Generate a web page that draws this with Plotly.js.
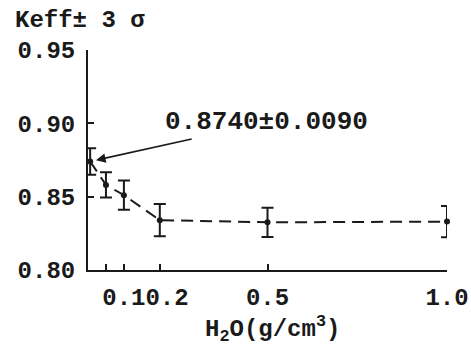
<!DOCTYPE html>
<html>
<head>
<meta charset="utf-8">
<script src="https://cdn.plot.ly/plotly-3.0.1.min.js"></script>
<style>
  body { margin: 0; background: #fff; }
  #chart { width: 471px; height: 347px; }
</style>
</head>
<body>
<div id="chart"></div>
<script>
const density = [0.006, 0.05, 0.1, 0.2, 0.5, 1.0];
const keff = [0.874, 0.858, 0.851, 0.834, 0.8325, 0.833];
const sigma3 = [0.009, 0.0086, 0.010, 0.011, 0.010, 0.0107];
const xTicks = [0.05, 0.1, 0.2, 0.5, 1.0];
// 0.05 has a tick but no label; 0.2 label is pushed right like the original
const xTickText = ['', '0.1', '\u00a00.2', '0.5', '1.0'];
const yTicks = [0.80, 0.85, 0.90, 0.95];

const ink = '#1a1a1a';
const font = 'Liberation Mono, DejaVu Sans Mono, monospace';

const data = [
  {
    x: density,
    y: keff,
    type: 'scatter',
    mode: 'lines+markers',
    line: { color: ink, width: 2, dash: '12px,7px' },
    marker: { color: ink, size: 6 },
    error_y: { type: 'data', array: sigma3, visible: true, color: ink, thickness: 2, width: 6 },
    cliponaxis: false,
    showlegend: false
  }
];

const layout = {
  width: 471,
  height: 347,
  margin: { l: 88, r: 24, t: 50, b: 77 },
  paper_bgcolor: '#fff',
  plot_bgcolor: '#fff',
  font: { family: font, color: ink, size: 24 },
  xaxis: {
    range: [0, 1.0],
    tickvals: xTicks,
    ticktext: xTickText,
    tickangle: 0,
    ticks: 'inside',
    ticklen: 6,
    tickwidth: 2,
    tickcolor: ink,
    showline: true,
    linewidth: 2,
    linecolor: ink,
    showgrid: false,
    zeroline: false,
    ticklabelstandoff: 4,
    tickfont: { family: font, size: 24, color: ink, weight: 'bold' }
  },
  yaxis: {
    range: [0.80, 0.95],
    tickvals: yTicks,
    tickformat: '.2f',
    ticks: 'inside',
    ticklen: 6,
    tickwidth: 2,
    tickcolor: ink,
    showline: true,
    linewidth: 2,
    linecolor: ink,
    showgrid: false,
    zeroline: false,
    ticklabelstandoff: 6,
    tickfont: { family: font, size: 24, color: ink, weight: 'bold' }
  },
  annotations: [
    {
      xref: 'paper', yref: 'paper',
      x: -0.209, y: 1.132,
      xanchor: 'left', yanchor: 'middle',
      text: 'Keff±\u00a03\u00a0σ',
      showarrow: false,
      font: { family: font, size: 24, color: ink, weight: 'bold' }
    },
    {
      // x-axis title, placed by hand: the axis title gets clamped inside the margin
      xref: 'paper', yref: 'paper',
      x: 0.515, y: -0.27,
      xanchor: 'center', yanchor: 'middle',
      text: 'H<sub>2</sub>O(g/cm<sup>3</sup>)',
      showarrow: false,
      font: { family: font, size: 24, color: ink, weight: 'bold' }
    },
    {
      x: density[0], y: keff[0],
      text: '0.8740±0.0090',
      showarrow: true,
      axref: 'pixel', ayref: 'pixel',
      ax: 176, ay: -39,
      arrowhead: 2,
      arrowsize: 1.2,
      arrowwidth: 1.6,
      arrowcolor: ink,
      standoff: 6,
      font: { family: font, size: 26, color: ink, weight: 'bold' }
    }
  ]
};

Plotly.newPlot('chart', data, layout, { displayModeBar: false, staticPlot: true });
</script>
</body>
</html>
